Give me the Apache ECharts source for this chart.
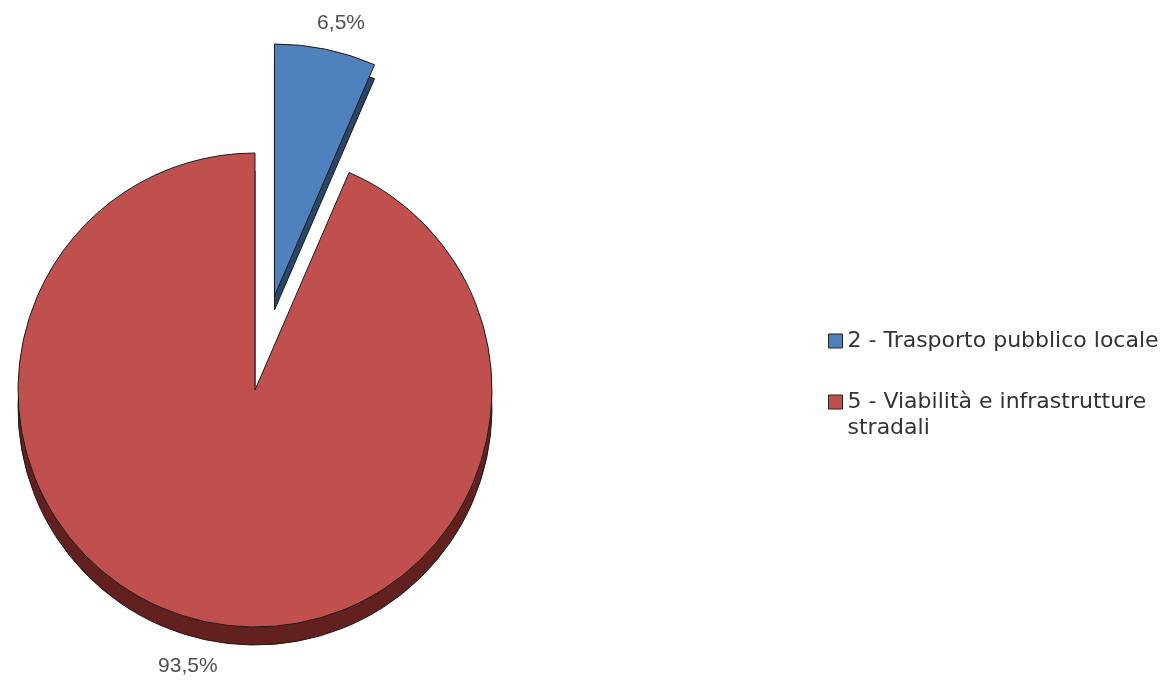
<!DOCTYPE html>
<html>
<head>
<meta charset="utf-8">
<script src="https://cdn.jsdelivr.net/npm/echarts@6/dist/echarts.min.js"></script>
<style>
  html, body { margin: 0; padding: 0; background: #fff; }
  #chart { width: 1171px; height: 682px; }
</style>
</head>
<body>
<div id="chart"></div>
<script>
// dati del grafico
var categories = ["2 - Trasporto pubblico locale", "5 - Viabilità e infrastrutture stradali"];
var values = [6.5, 93.5];
var faceColors = ["#4f81bd", "#c0504d"];
var sideColors = ["#2a4568", "#62201e"];

var myChart = echarts.init(document.getElementById("chart"));

function pct(v) {
  return String(v).replace(".", ",") + "%";
}

// una serie per fetta: la fetta blu esplosa è un po' più grande
function makeSeries(idx, radius, centerY, colors, z, withLabel, lineLen) {
  return {
    type: "pie",
    z: z,
    silent: true,
    center: [255, centerY],
    radius: radius,
    startAngle: 90,
    selectedMode: "single",
    selectedOffset: 96,
    avoidLabelOverlap: false,
    label: {
      show: withLabel,
      position: "outside",
      formatter: function (p) { return pct(p.value); },
      fontFamily: "Liberation Sans",
      fontSize: 21,
      color: "#505050"
    },
    labelLine: { show: false, length: lineLen, length2: 5 },
    labelLayout: { align: "center" },
    emphasis: { disabled: true },
    data: categories.map(function (name, i) {
      var own = i === idx;
      return {
        name: name,
        value: values[i],
        selected: i === 0,
        itemStyle: own
          ? { color: colors[i], borderColor: "#1a1a1a", borderWidth: 1 }
          : { color: "rgba(0,0,0,0)", borderWidth: 0 },
        label: { show: own && withLabel }
      };
    })
  };
}

myChart.setOption({
  animation: false,
  legend: {
    orient: "vertical",
    left: 823,
    top: 325,
    itemWidth: 14,
    itemHeight: 14,
    itemGap: 19,
    icon: "rect",
    selectedMode: false,
    data: categories.map(function (name, i) {
      return {
        name: name,
        itemStyle: { color: faceColors[i], borderColor: "#222", borderWidth: 1 }
      };
    }),
    formatter: function (name) {
      if (name.indexOf(" stradali") > 0) {
        return "{s| }\n{t|" + name.replace(" stradali", "}\n{t|stradali}");
      }
      return "{t|" + name + "}";
    },
    textStyle: {
      rich: {
        t: { fontFamily: "DejaVu Sans", fontSize: 22, lineHeight: 26, color: "#333" },
        s: { fontSize: 10, lineHeight: 26 }
      }
    }
  },
  series: [
    makeSeries(1, 237, 390, faceColors, 4, true, 45),
    makeSeries(0, 252, 390, faceColors, 4, true, 27),
    makeSeries(1, 237, 408, sideColors, 2, false, 10),
    makeSeries(0, 252, 404, sideColors, 2, false, 10)
  ]
});
</script>
</body>
</html>
